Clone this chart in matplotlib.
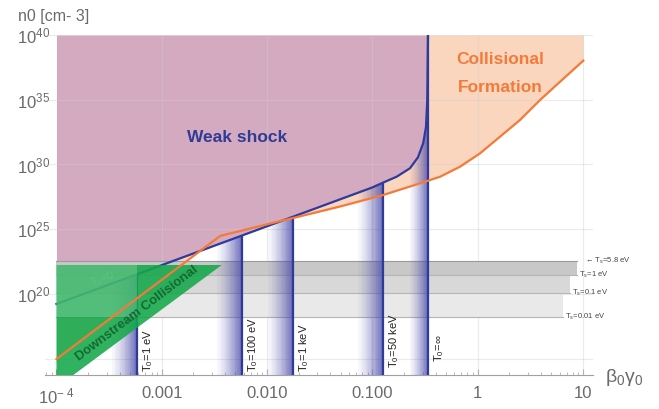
import numpy as np
import matplotlib
matplotlib.use("Agg")
import matplotlib.pyplot as plt
from matplotlib.patches import Polygon
from matplotlib.colors import ListedColormap

plt.rcParams['font.family'] = ['Liberation Sans', 'DejaVu Sans']
plt.rcParams['mathtext.fontset'] = 'custom'
plt.rcParams['mathtext.rm'] = 'Liberation Sans'
plt.rcParams['mathtext.it'] = 'Liberation Sans:italic'
plt.rcParams['mathtext.bf'] = 'Liberation Sans:bold'

# ─── DATA (log10 values) ───────────────────────────────────────────────────
# weak shock boundary (blue curve)
ws_logb = [-4.0, -3.5, -3.0, -2.5, -2.0, -1.5, -1.0, -0.899, -0.769,
           -0.643, -0.567, -0.517, -0.491, -0.479, -0.472]
ws_logn = [19.23, 20.73, 22.23, 23.73, 25.23, 26.73, 28.23, 28.6, 29.06,
           29.71, 30.56, 31.66, 32.9, 34.98, 40.0]

# collisional formation boundary (orange curve)
cf_logb = [-4.0, -2.447, -2.0, -1.5, -1.305, -0.899, -0.546, -0.356,
           -0.168, 0.022, 0.212, 0.402, 0.592, 0.782, 1.003]
cf_logn = [14.98, 24.48, 25.38, 26.37, 26.76, 27.64, 28.55, 29.06,
           29.83, 30.86, 32.15, 33.44, 34.98, 36.39, 38.02]

# upstream temperature columns T0
t0_labels = ['1 eV', '100 eV', '1 keV', '50 keV', '∞']
t0_logb = [-3.236, -2.238, -1.754, -0.899, -0.472]

# shock temperature levels Ts (gray bands)
ts_labels = ['5.8 eV', '1 eV', '0.1 eV', '0.01 eV']
ts_logn = [22.55, 21.47, 20.05, 18.25]
ts_end_logb = [0.943, 0.943, 0.877, 0.810]

# downstream collisional region (green)
green_logb = [-4.0, -2.43, -3.84, -4.0]
green_logn = [22.24, 22.24, 13.745, 13.745]

xtick_vals = [1e-4, 1e-3, 1e-2, 1e-1, 1.0, 10.0]
xtick_labels = [r'$\mathregular{10^{-\ 4}}$', '0.001', '0.010', '0.100', '1', '10']
ytick_exp = [20, 25, 30, 35, 40]

# ─── STYLE ─────────────────────────────────────────────────────────────────
PINK = '#D4AAC0'
PEACH = '#FAD6BE'
BLUE = '#2E3B9B'
ORANGE = '#F47A3A'
GREEN = '#14A84A'
GRAY_TXT = '#6A6A6A'
band_grays = ['#C8C8C8', '#D8D8D8', '#E9E9E9']
GRAD_RGB = (75 / 255, 75 / 255, 172 / 255)

YBOT = 10.0 ** 13.745
YTOP = 1e40
XLO = 10.0 ** -4.109
XHI = 10.0 ** 1.095

fig = plt.figure(figsize=(6.59, 4.09), dpi=100)
ax = fig.add_axes([45 / 659, 34 / 409, 548 / 659, 340 / 409])
ax.set_xscale('log')
ax.set_yscale('log')

ws_b = 10.0 ** np.array(ws_logb)
ws_n = 10.0 ** np.array(ws_logn)
cf_b = 10.0 ** np.array(cf_logb)
cf_n = 10.0 ** np.array(cf_logn)

# regions
ax.fill_between(cf_b, cf_n, YTOP, color=PEACH, lw=0, zorder=1)
ax.fill_between(ws_b, ws_n, YTOP, color=PINK, lw=0, zorder=2)

# grid
for e in range(-3, 2):
    ax.axvline(10.0 ** e, color='#cfcfcf', lw=0.8, alpha=0.4, zorder=3)
for e in range(15, 41, 5):
    ax.axhline(10.0 ** e, color='#cfcfcf', lw=0.8, alpha=0.4, zorder=3)

# gray Ts bands
for i in range(3):
    ax.fill_between([1e-4, 10.0 ** ts_end_logb[i + 1]], 10.0 ** ts_logn[i + 1],
                    10.0 ** ts_logn[i], color=band_grays[i], lw=0, zorder=3.5)
for i, lev in enumerate(ts_logn):
    ax.plot([1e-4, 10.0 ** ts_end_logb[i]], [10.0 ** lev, 10.0 ** lev],
            color='#9a9a9a' if i == 0 else '#b5b5b5', lw=0.8, zorder=3.6)

# clip region below the weak-shock curve
below = list(zip(ws_b, ws_n)) + [(ws_b[-1], YBOT), (ws_b[0], YBOT)]
clip_poly = Polygon(below, closed=True, transform=ax.transData)

# gradient columns (white -> blue towards each T0 line)
ramp = np.zeros((256, 4))
ramp[:, :3] = GRAD_RGB
ramp[:, 3] = 0.04 + 0.76 * np.linspace(0, 1, 256) ** 1.3
grad_cmap = ListedColormap(ramp)
ncol = 30
for lb, lab in zip(t0_logb, t0_labels):
    w = 0.17 if lab == '∞' else 0.235
    xe = 10.0 ** np.linspace(lb - w, lb, ncol + 1)
    cval = np.linspace(0, 1, ncol)[None, :]
    qm = ax.pcolormesh(xe, [YBOT, YTOP], cval, cmap=grad_cmap, vmin=0, vmax=1,
                       shading='flat', edgecolors='none', antialiased=False,
                       zorder=4)
    qm.set_clip_path(clip_poly)
    vl = ax.vlines(10.0 ** lb, YBOT, YTOP, color=BLUE, lw=1.6, zorder=6)
    if lab != '∞':
        vl.set_clip_path(clip_poly)

ax.plot(ws_b, ws_n, color=BLUE, lw=1.6, zorder=6)

# downstream collisional
ax.fill(10.0 ** np.array(green_logb), 10.0 ** np.array(green_logn),
        color=GREEN, alpha=0.88, lw=0, zorder=7)
ax.fill_between([1e-4, 10.0 ** t0_logb[0]], 10.0 ** ts_logn[3], 10.0 ** green_logn[0],
                color='white', alpha=0.18, lw=0, zorder=7.2)

ax.plot(cf_b, cf_n, color=ORANGE, lw=1.6, zorder=8)

# ─── TEXT ──────────────────────────────────────────────────────────────────
ax.text(10.0 ** -2.286, 10.0 ** 32.12, 'Weak shock', color='#2E3C96',
        fontsize=12.5, fontweight='bold', ha='center', va='center', zorder=9)
ax.text(10.0 ** 0.212, 10.0 ** 38.07, 'Collisional', color=ORANGE,
        fontsize=12.5, fontweight='bold', ha='center', va='center', zorder=9)
ax.text(10.0 ** 0.212, 10.0 ** 35.98, 'Formation', color=ORANGE,
        fontsize=12.5, fontweight='bold', ha='center', va='center', zorder=9)
ax.text(10.0 ** -3.235, 10.0 ** 18.46, 'Downstream Collisional', color='#136A30',
        fontsize=9.5, fontweight='bold', rotation=37, ha='center',
        va='center', rotation_mode='anchor', zorder=9)
ax.text(10.0 ** -3.567, 10.0 ** 21.16, r'$\mathregular{T_s}$=0', color='#5cc285',
        fontsize=8, rotation=20, ha='center', va='center', zorder=9)

offs = {'1 eV': 2, '100 eV': 2, '1 keV': 2, '50 keV': 5, '∞': 9}
for lb, lab in zip(t0_logb, t0_labels):
    ax.annotate(r'$\mathregular{T_0}$=' + lab, xy=(10.0 ** lb, YBOT),
                xytext=(3, offs[lab]), textcoords='offset points',
                rotation=90, ha='left', va='bottom', fontsize=8,
                color='#222222', zorder=9)

for i, (lab, lev) in enumerate(zip(ts_labels, ts_logn)):
    if i == 0:
        s = '← ' + r'$\mathregular{T_s}$=' + lab
        x0 = 10.0 ** 1.015
    else:
        s = r'$\mathregular{T_s}$=' + lab
        x0 = 10.0 ** (ts_end_logb[i] + 0.015)
    ax.text(x0, 10.0 ** lev, s, fontsize=5.5, color='#444444',
            ha='left', va='center', zorder=9)

# ─── AXES ──────────────────────────────────────────────────────────────────
ax.set_xlim(XLO, XHI)
ax.set_ylim(YBOT, YTOP)
for s in ['top', 'right', 'left']:
    ax.spines[s].set_visible(False)
ax.spines['bottom'].set_color('#a0a0a0')
ax.set_xticks(xtick_vals)
ax.set_xticklabels(xtick_labels)
ax.set_yticks([10.0 ** e for e in ytick_exp])
ax.set_yticklabels([r'$\mathregular{10^{%d}}$' % e for e in ytick_exp])
ax.yaxis.set_minor_locator(matplotlib.ticker.NullLocator())
ax.tick_params(axis='x', which='major', direction='in', length=4,
               color='#a0a0a0', labelsize=12, labelcolor=GRAY_TXT, pad=8)
ax.tick_params(axis='x', which='minor', direction='in', length=2,
               color='#b0b0b0')
ax.tick_params(axis='y', length=0, labelsize=12, labelcolor=GRAY_TXT, pad=-4)

fig.text(18 / 659, 1 - 16 / 409, 'n0 [cm- 3]', fontsize=11.5, color=GRAY_TXT,
         ha='left', va='center')
fig.text(605 / 659, 1 - 377 / 409, r'$\mathregular{β_0γ_0}$', fontsize=14,
         color=GRAY_TXT, ha='left', va='center')

fig.savefig('out.png', dpi=100)
